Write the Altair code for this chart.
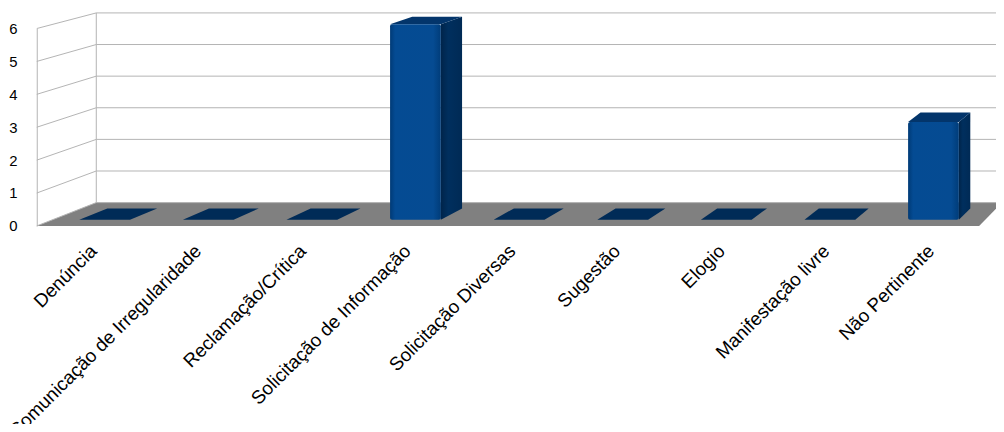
import json
import altair as alt
import pandas as pd

# ---- data ----
categories = [
    "Denúncia",
    "Comunicação de Irregularidade",
    "Reclamação/Crítica",
    "Solicitação de Informação",
    "Solicitação Diversas",
    "Sugestão",
    "Elogio",
    "Manifestação livre",
    "Não Pertinente",
]
values = [0, 0, 0, 6, 0, 0, 0, 0, 3]
y_ticks = [0, 1, 2, 3, 4, 5, 6]

# ---- 3D projection parameters (in data units) ----
N = len(categories)
DX, DY, P = 0.5684, 0.7085, 0.039      # depth shift in x, y and perspective shrink
Z_FRONT, Z_BACK, HALF = 0.27, 0.75, 0.245
X_MIN, X_MAX = -0.5, N - 0.5

xs = alt.Scale(domain=[X_MIN, X_MAX], nice=False, zero=False)
ys = alt.Scale(domain=[y_ticks[0], y_ticks[-1]], nice=False, zero=False)
FONT = "Liberation Sans"
GRID = "#b3b3b3"

label_expr = json.dumps(categories, ensure_ascii=False) + "[datum.value]"
AY = alt.Axis(
    values=y_ticks,
    title=None,
    grid=False,
    ticks=False,
    domain=True,
    domainColor=GRID,
    domainWidth=1,
    labelFont=FONT,
    labelFontSize=15,
    labelColor="#000000",
    labelPadding=20,
    labelAlign="right",
)
AX = alt.Axis(
    values=list(range(N)),
    labelExpr=label_expr,
    title=None,
    grid=False,
    ticks=False,
    domain=False,
    labelAngle=-45,
    labelAlign="right",
    labelBaseline="middle",
    labelPadding=22,
    labelOffset=4,
    labelFont=FONT,
    labelFontSize=19,
    labelColor="#000000",
    labelLimit=500,
    labelOverlap=False,
    labelBound=False,
    labelFlush=False,
)

def XE(field):
    return alt.X(field, scale=xs, axis=AX)

def YE(field):
    return alt.Y(field, scale=ys, axis=AY)

# bar geometry table (two depth points per category)
bars = pd.DataFrame(
    [
        {"cat": c, "idx": i, "value": v, "z": z, "pos": p}
        for i, (c, v) in enumerate(zip(categories, values))
        for z, p in ((Z_FRONT, "f"), (Z_BACK, "b"))
    ]
)

def X(idx_expr, z="datum.z"):
    return f"{X_MIN} + {DX}*{z} + (({idx_expr}) - ({X_MIN}))*(1 - {P}*{z})"

def Y(v_expr, z="datum.z"):
    return f"{DY}*{z} + ({v_expr})*(1 - {P}*{z})"

base = alt.Chart(bars).transform_calculate(
    xl=X(f"datum.idx - {HALF}"),
    xr=X(f"datum.idx + {HALF}"),
    y0=Y("0"),
    yv=Y("datum.value"),
)

# ---- floor ----
floor_df = pd.DataFrame({"z": [0.0, 1.0]})
floor = (
    alt.Chart(floor_df)
    .transform_calculate(fy=Y("0"), fa=X(f"{X_MIN}"), fb=X(f"{X_MAX}"))
    .mark_area(orient="horizontal", fill="#808080")
    .encode(y=YE("fy:Q"), x=XE("fa:Q"), x2="fb:Q")
)

# ---- walls / gridlines ----
grid_df = pd.DataFrame({"t": y_ticks})
grid = alt.Chart(grid_df).transform_calculate(
    xf=f"{X_MIN}",
    xb=X(f"{X_MIN}", "1"),
    xe=X(f"{X_MAX}", "1"),
    yb=Y("datum.t", "1"),
)
side_grid = grid.mark_rule(color=GRID, strokeWidth=1).encode(
    x=XE("xf:Q"), y=YE("t:Q"), x2="xb:Q", y2="yb:Q"
)
back_grid = grid.mark_rule(color=GRID, strokeWidth=1).encode(
    x=XE("xb:Q"), y=YE("yb:Q"), x2="xe:Q"
)
edge_df = pd.DataFrame({"lo": [y_ticks[0]], "hi": [y_ticks[-1]]})
back_edge = (
    alt.Chart(edge_df)
    .transform_calculate(ex=X(f"{X_MIN}", "1"), ey0=Y("datum.lo", "1"), ey1=Y("datum.hi", "1"))
    .mark_rule(color=GRID, strokeWidth=1)
    .encode(x=XE("ex:Q"), y=YE("ey0:Q"), y2="ey1:Q")
)

# ---- bars ----
zero_top = (
    base.transform_filter("datum.value == 0")
    .mark_area(orient="horizontal", fill="#002b57")
    .encode(y=YE("yv:Q"), x=XE("xl:Q"), x2="xr:Q", detail="cat:N")
)

side_grad = alt.Gradient(
    gradient="linear",
    x1=0, x2=1, y1=0, y2=0,
    stops=[
        alt.GradientStop(offset=0, color="#00244a"),
        alt.GradientStop(offset=0.35, color="#002f5e"),
        alt.GradientStop(offset=1, color="#002a55"),
    ],
)
side = (
    base.transform_filter("datum.value > 0")
    .mark_area(orient="vertical", fill=side_grad)
    .encode(x=XE("xr:Q"), y=YE("y0:Q"), y2="yv:Q", detail="cat:N")
)
top = (
    base.transform_filter("datum.value > 0")
    .mark_area(orient="horizontal", fill="#03356b")
    .encode(y=YE("yv:Q"), x=XE("xl:Q"), x2="xr:Q", detail="cat:N")
)
front_grad = alt.Gradient(
    gradient="linear",
    x1=0, x2=1, y1=0, y2=0,
    stops=[
        alt.GradientStop(offset=0, color="#003a76"),
        alt.GradientStop(offset=0.1, color="#044b93"),
        alt.GradientStop(offset=0.85, color="#054b92"),
        alt.GradientStop(offset=1, color="#003c79"),
    ],
)
front = (
    base.transform_filter("datum.value > 0 && datum.pos == 'f'")
    .mark_rect(fill=front_grad, cornerRadius=2)
    .encode(x=XE("xl:Q"), x2="xr:Q", y=YE("y0:Q"), y2="yv:Q")
)

chart = (
    alt.layer(floor, back_grid, side_grid, back_edge, zero_top, side, top, front)
    .properties(
        width=950,
        height=199,
        autosize=alt.AutoSizeParams(type="none"),
        padding={"left": 29, "top": 19, "right": 17, "bottom": 198},
    )
    .configure_view(stroke=None)
)

chart.save("out.html", embed_options={"renderer": "svg", "actions": False})
